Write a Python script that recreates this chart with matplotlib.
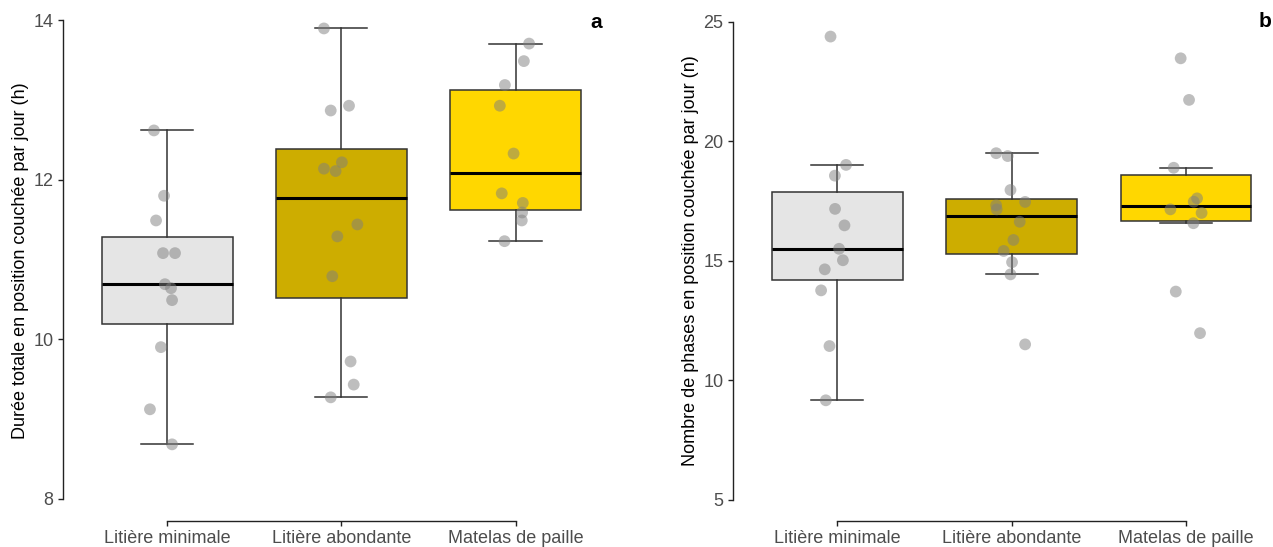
import matplotlib
matplotlib.use('Agg')
import matplotlib.pyplot as plt
import numpy as np

plt.rcParams['font.family'] = ['Liberation Sans', 'DejaVu Sans']

# ---------------- data ----------------
categories = ['Litière minimale', 'Litière abondante', 'Matelas de paille']
box_colors = ['#E5E5E5', '#CDAD00', '#FFD700']

# Panel a: total lying duration per day (h)
dur_min = [12.62, 11.80, 11.49, 11.08, 11.08, 10.69, 10.64, 10.49, 9.90, 9.12, 8.68]
dur_abo = [13.90, 12.87, 12.93, 12.22, 12.14, 12.11, 11.44, 11.29, 10.79, 9.72, 9.43, 9.27]
dur_mat = [13.71, 13.49, 13.19, 12.93, 12.33, 11.83, 11.71, 11.59, 11.49, 11.23]
# horizontal jitter (category units)
jit_dur_min = [-0.076, -0.018, -0.064, -0.024, 0.045, -0.013, 0.022, 0.028, -0.036, -0.099, 0.028]
jit_dur_abo = [-0.100, -0.061, 0.044, 0.003, -0.100, -0.033, 0.092, -0.023, -0.052, 0.053, 0.071, -0.061]
jit_dur_mat = [0.078, 0.048, -0.061, -0.090, -0.011, -0.079, 0.042, 0.038, 0.036, -0.063]

# Panel b: number of lying bouts per day (n)
nb_min = [24.39, 19.02, 18.57, 17.18, 16.49, 15.51, 15.03, 14.65, 13.77, 11.44, 9.17]
nb_abo = [19.51, 19.39, 17.97, 17.47, 17.33, 17.16, 16.64, 15.88, 15.42, 14.95, 14.44, 11.51]
nb_mat = [23.48, 21.74, 18.90, 17.62, 17.48, 17.16, 17.01, 16.58, 13.72, 11.98]
jit_nb_min = [-0.039, 0.050, -0.014, -0.013, 0.041, 0.010, 0.032, -0.072, -0.093, -0.045, -0.066]
jit_nb_abo = [-0.089, -0.023, -0.007, 0.077, -0.089, -0.086, 0.046, 0.010, -0.046, 0.002, -0.007, 0.077]
jit_nb_mat = [-0.031, 0.017, -0.071, 0.063, 0.044, -0.090, 0.089, 0.042, -0.059, 0.080]

ylabel_a = 'Durée totale en position couchée par jour (h)'
ylabel_b = 'Nombre de phases en position couchée par jour (n)'
yticks_a = [8, 10, 12, 14]
yticks_b = [5, 10, 15, 20, 25]

# ---------------- figure ----------------
W, H = 1273, 547
fig = plt.figure(figsize=(W / 100, H / 100), dpi=100)


def px_axes(x0, x1, ytop, ybot):
    return fig.add_axes([x0 / W, 1 - ybot / H, (x1 - x0) / W, (ybot - ytop) / H])


def panel(ax, groups, jitters, yticks, ylim, ylabel):
    pos = np.arange(len(groups))
    edge = '#333333'
    bp = ax.boxplot(groups, positions=pos, widths=0.75, patch_artist=True,
                    showfliers=False, whis=1.5, capwidths=0.3,
                    boxprops=dict(edgecolor=edge, linewidth=1.1),
                    whiskerprops=dict(color=edge, linewidth=1.1),
                    capprops=dict(color=edge, linewidth=1.1),
                    medianprops=dict(color='black', linewidth=2.2))
    for patch, c in zip(bp['boxes'], box_colors):
        patch.set_facecolor(c)
    for i, (vals, jit) in enumerate(zip(groups, jitters)):
        ax.scatter(i + np.asarray(jit), vals, s=72, color='#7F7F7F', alpha=0.5,
                   edgecolors='none', zorder=3)
    ax.set_xlim(-0.6, len(groups) - 0.4)
    ax.set_ylim(*ylim)
    ax.set_yticks(yticks)
    ax.set_xticks(pos)
    ax.set_xticklabels(categories)
    for s in ['top', 'right']:
        ax.spines[s].set_visible(False)
    ax.spines['left'].set_bounds(yticks[0], yticks[-1])
    ax.spines['bottom'].set_bounds(pos[0], pos[-1])
    for s in ['left', 'bottom']:
        ax.spines[s].set_linewidth(1.0)
        ax.spines[s].set_color('#222222')
    ax.tick_params(axis='both', length=3.6, width=1.0, color='#222222',
                   labelsize=13, labelcolor='#4D4D4D', pad=3)
    ax.set_ylabel(ylabel, fontsize=13, color='black')
    ax.patch.set_alpha(0)


axA = px_axes(62.7, 620, 0, 521)
axB = px_axes(732.7, 1290.7, 0, 521)

panel(axA, [dur_min, dur_abo, dur_mat], [jit_dur_min, jit_dur_abo, jit_dur_mat],
      yticks_a, (7.718, 14.257), ylabel_a)
panel(axB, [nb_min, nb_abo, nb_mat], [jit_nb_min, jit_nb_abo, jit_nb_mat],
      yticks_b, (4.12, 25.92), ylabel_b)

axA.yaxis.set_label_coords(-0.0605, 0.5)
axB.yaxis.set_label_coords(-0.0604, 0.5)

fig.text(596.5 / W, 1 - 28 / H, 'a', ha='center', va='baseline', fontsize=15, fontweight='bold')
fig.text(1265 / W, 1 - 27 / H, 'b', ha='center', va='baseline', fontsize=15, fontweight='bold')

fig.savefig('out.png', dpi=100)
